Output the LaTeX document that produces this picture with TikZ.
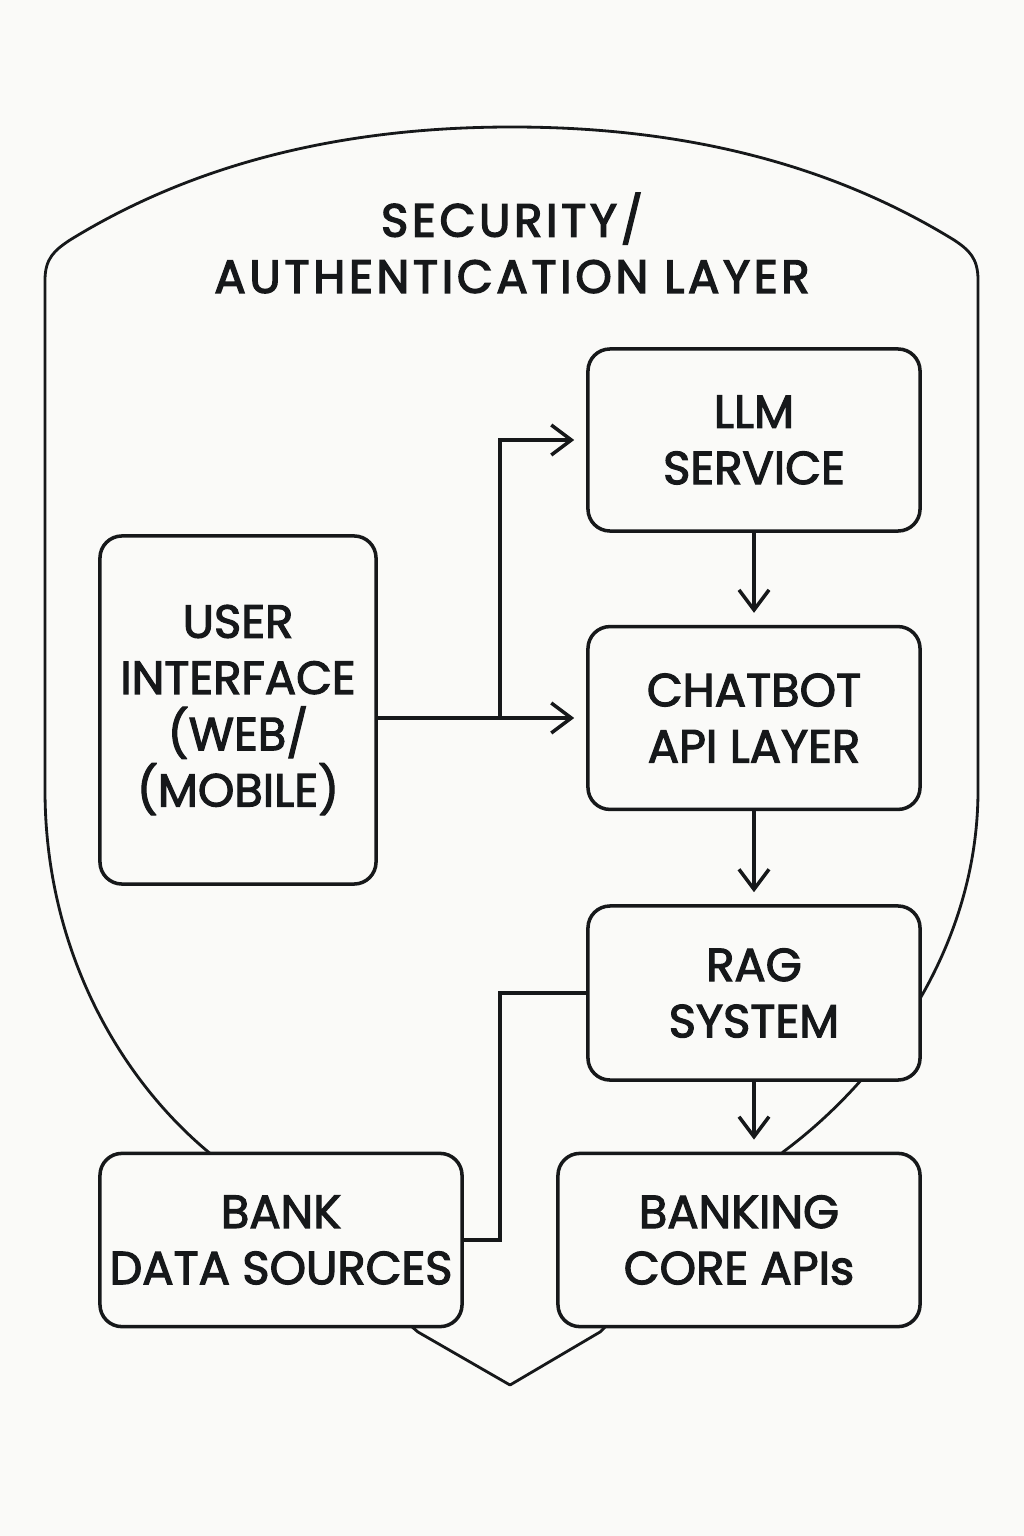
\documentclass[tikz,border=0pt]{standalone}
\usepackage{fontspec}
\setmainfont{Poppins}
\newcommand\boxfont{\addfontfeatures{FakeBold=2.5}}
\newcommand\titlefont{\addfontfeatures{FakeBold=3, LetterSpace=8}}
\usetikzlibrary{arrows.meta}
\definecolor{paper}{RGB}{250,250,248}
\definecolor{ink}{RGB}{22,24,26}

\begin{document}
\begin{tikzpicture}[x=0.025cm, y=-0.025cm, line width=2.5pt, draw=ink,
    box/.style={draw=ink, fill=paper, rounded corners=0.55cm, align=center, inner sep=0pt,
                font=\fontsize{33}{40}\selectfont\boxfont, text=ink},
    arr/.style={draw=ink, -{Straight Barb[length=0.5cm, width=0.75cm, line width=2.5pt]}, shorten >=0.3cm}]
		\fill[paper] (0,0) rectangle (1024,1536);
		\useasboundingbox (0,0) rectangle (1024,1536);

		% shield
		\draw[ink, line width=2pt, line join=round] (45,790) -- (45,280) .. controls (45,258) and (55,250) .. (70,240)
		      .. controls (200,160) and (350,127) .. (512,127)
		      .. controls (674,127) and (824,160) .. (954,240)
		      .. controls (969,250) and (978,258) .. (978,280) -- (978,790)
		      .. controls (978,950) and (880,1080) .. (783,1152)
		      -- (600,1332) -- (510,1385) -- (418,1332) -- (212,1155)
		      .. controls (120,1080) and (45,950) .. cycle;

		\node[text=ink, align=center, font=\fontsize{33}{40}\selectfont\titlefont] (title) at (512,243) {SECURITY/\\AUTHENTICATION LAYER};

		\node[box, minimum width=8.3cm, minimum height=4.55cm] (llm) at (754,440) {LLM\\SERVICE};
		\node[box, minimum width=8.3cm, minimum height=4.57cm] (chat) at (754,718) {CHATBOT\\API LAYER};
		\node[box, minimum width=8.3cm, minimum height=4.35cm] (rag) at (754,993) {RAG\\SYSTEM};
		\node[box, minimum width=9.05cm, minimum height=4.33cm] (core) at (739,1240) {BANKING\\CORE APIs};
		\node[box, minimum width=9.05cm, minimum height=4.33cm] (data) at (281,1240) {BANK\\DATA SOURCES};
		\node[box, minimum width=6.9cm, minimum height=8.7cm] (ui) at (238,710) {USER\\INTERFACE\\(WEB/\\(MOBILE)};

		\coordinate (split) at (500,718);
		\coordinate (join) at (500,1120);

		\draw[arr] (ui.east |- chat.west) -- (chat.west);
		\draw[arr] (split) |- (llm.west);
		\draw[arr] (llm.south) -- (chat.north);
		\draw[arr] (chat.south) -- (rag.north);
		\draw[arr] (rag.south) -- (rag.south |- core.north);
		\draw (rag.west) -| (join) |- (data.east);
\end{tikzpicture}
\end{document}
